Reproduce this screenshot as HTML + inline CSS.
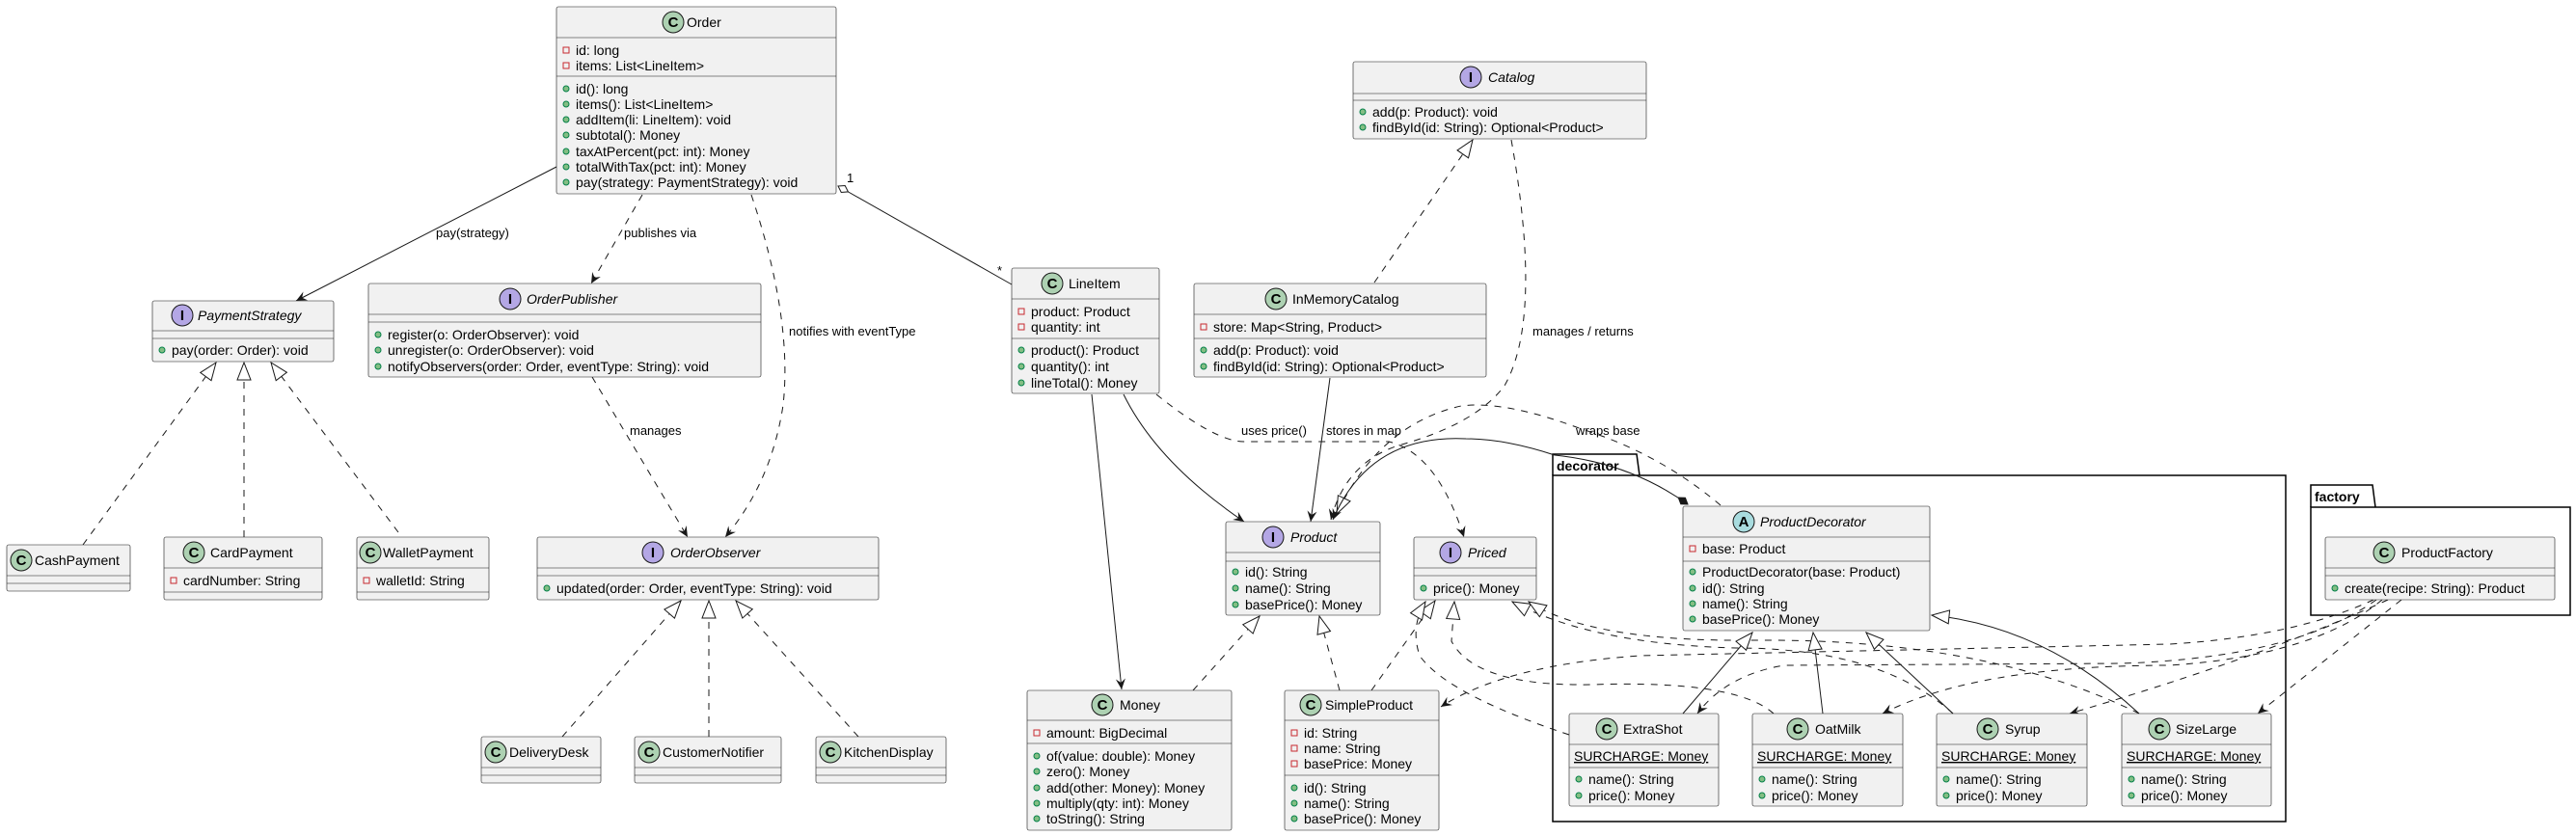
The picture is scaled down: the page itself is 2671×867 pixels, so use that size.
<!DOCTYPE html>
<html><head><meta charset="utf-8"><style>
html,body{margin:0;padding:0;background:#fff;}
svg{display:block;}
text{font-family:"Liberation Sans","DejaVu Sans",sans-serif;font-size:14px;fill:#000;}
.b{fill:#F1F1F1;stroke:#181818;stroke-width:0.6;}
.s{stroke:#181818;stroke-width:0.6;}
.e{fill:none;stroke:#181818;stroke-width:1;}
.d{fill:none;stroke:#181818;stroke-width:1;stroke-dasharray:7,7;}
.pv{fill:none;stroke:#C82930;stroke-width:1;}
.pu{fill:#84BE84;stroke:#038048;stroke-width:1;}
.cc{fill:#ADD1B2;stroke:#181818;stroke-width:1;}
.ci{fill:#B4A7E5;stroke:#181818;stroke-width:1;}
.ca{fill:#A9DCDF;stroke:#181818;stroke-width:1;}
.lt{font-weight:bold;font-size:15px;text-anchor:middle;}
.it{font-style:italic;}
.lb{font-size:13px;}
.pk{fill:none;stroke:#000;stroke-width:1.5;}
.pn{font-weight:bold;font-size:14px;}
</style></head><body>
<svg width="2671" height="867" viewBox="0 0 2671 867" xmlns="http://www.w3.org/2000/svg">
<defs>
<marker id="arr" markerUnits="userSpaceOnUse" markerWidth="24" markerHeight="24" refX="0" refY="0" viewBox="-12 -12 24 24" orient="auto"><path d="M0,0 L-11,-5 L-7,0 L-11,5 Z" fill="#181818"/></marker>
<marker id="tri" markerUnits="userSpaceOnUse" markerWidth="40" markerHeight="40" refX="0" refY="0" viewBox="-20 -20 40 40" orient="auto"><path d="M0,0 L-18,-7 L-18,7 Z" fill="#fff" stroke="#181818" stroke-width="1"/></marker>
<marker id="dia" markerUnits="userSpaceOnUse" markerWidth="30" markerHeight="30" refX="0" refY="0" viewBox="-15 -15 30 30" orient="auto"><path d="M0,0 L6,-4 L12,0 L6,4 Z" fill="#181818" stroke="#181818"/></marker>
<marker id="hdia" markerUnits="userSpaceOnUse" markerWidth="30" markerHeight="30" refX="0" refY="0" viewBox="-15 -15 30 30" orient="auto"><path d="M0,0 L6,-4 L12,0 L6,4 Z" fill="#fff" stroke="#181818"/></marker>
</defs>

<!-- packages -->
<path class="pk" d="M1610,493 L1610,471 L1697,471 L1700,493"/>
<rect class="pk" x="1610" y="493" width="760" height="359"/>
<text class="pn" x="1614" y="488">decorator</text>
<path class="pk" d="M2396,526 L2396,503 L2460,503 L2463,526"/>
<rect class="pk" x="2396" y="526" width="269" height="112"/>
<text class="pn" x="2400" y="520">factory</text>

<!-- edges -->
<path class="e" d="M577,173 L307,312" marker-end="url(#arr)"/>
<text class="lb" x="452" y="246">pay(strategy)</text>
<path class="d" d="M666,202 L613,294" marker-end="url(#arr)"/>
<text class="lb" x="647" y="246">publishes via</text>
<path class="d" d="M779,202 Q822,330 812,420 Q800,500 752,557" marker-end="url(#arr)"/>
<text class="lb" x="818" y="348">notifies with eventType</text>
<path class="e" d="M869,193 L1049,295" marker-start="url(#hdia)"/>
<text class="lb" x="878" y="189">1</text>
<text class="lb" x="1034" y="285">*</text>
<path class="d" d="M86,565 L224,376" marker-end="url(#tri)"/>
<path class="d" d="M253,557 L253,376" marker-end="url(#tri)"/>
<path class="d" d="M413,552 L281,376" marker-end="url(#tri)"/>
<path class="d" d="M614,391 L713,557" marker-end="url(#arr)"/>
<text class="lb" x="653" y="451">manages</text>
<path class="d" d="M583,764 L706,623" marker-end="url(#tri)"/>
<path class="d" d="M735,764 L735,623" marker-end="url(#tri)"/>
<path class="d" d="M890,764 L763,623" marker-end="url(#tri)"/>
<path class="d" d="M1425,293 L1527,145" marker-end="url(#tri)"/>
<path class="d" d="M1567,145 Q1600,330 1560,400 Q1530,440 1450,462 Q1395,480 1380,539" marker-end="url(#arr)"/>
<text class="lb" x="1589" y="348">manages / returns</text>
<path class="d" d="M1784,524 Q1720,470 1640,445 Q1560,415 1515,421 Q1430,440 1386,533" marker-end="url(#tri)"/>
<text class="lb" x="1634" y="451">wraps base</text>
<path class="e" d="M1750,523 Q1690,480 1612,472 Q1560,455 1520,455 Q1420,450 1382,539" marker-start="url(#dia)" marker-end="url(#arr)"/>
<path class="e" d="M1132,409 L1163,715" marker-end="url(#arr)"/>
<path class="e" d="M1165,409 Q1200,480 1290,541" marker-end="url(#arr)"/>
<path class="e" d="M1379,392 L1359,541" marker-end="url(#arr)"/>
<text class="lb" x="1375" y="451">stores in map</text>
<path class="d" d="M1199,409 Q1260,458 1290,458 L1440,458 Q1490,470 1518,557" marker-end="url(#arr)"/>
<text class="lb" x="1287" y="451">uses price()</text>
<path class="d" d="M1237,716 L1306,639" marker-end="url(#tri)"/>
<path class="d" d="M1389,716 L1368,639" marker-end="url(#tri)"/>
<path class="d" d="M1422,716 L1488,623" marker-end="url(#tri)"/>
<path class="d" d="M1627,762 Q1500,720 1472,680 Q1462,650 1478,624" marker-end="url(#tri)"/>
<path class="d" d="M1839,740 Q1800,705 1650,710 Q1530,712 1505,665 L1508,624" marker-end="url(#tri)"/>
<path class="d" d="M2025,740 Q1950,672 1800,672 Q1650,668 1568,624" marker-end="url(#tri)"/>
<path class="d" d="M2218,740 Q2060,662 1820,664 Q1650,666 1585,624" marker-end="url(#tri)"/>
<path class="d" d="M2461,622 Q2380,660 2250,668 L1700,680 Q1560,690 1494,733" marker-end="url(#arr)"/>
<path class="d" d="M2464,622 Q2380,682 2200,688 L1850,690 Q1790,700 1760,740" marker-end="url(#arr)"/>
<path class="d" d="M2470,622 Q2400,680 2250,690 Q2050,690 1952,740" marker-end="url(#arr)"/>
<path class="d" d="M2476,622 Q2350,680 2146,740" marker-end="url(#arr)"/>
<path class="d" d="M2490,622 L2341,740" marker-end="url(#arr)"/>

<!-- Order -->
<rect class="b" x="577" y="7" width="290" height="194" rx="2"/>
<circle class="cc" cx="698" cy="23" r="11"/><text class="lt" x="698" y="28">C</text>
<text x="712" y="28">Order</text>
<line class="s" x1="577" y1="39" x2="867" y2="39"/><line class="s" x1="577" y1="79" x2="867" y2="79"/>
<rect class="pv" x="584" y="49" width="6" height="6"/><text x="597" y="57">id: long</text>
<rect class="pv" x="584" y="65" width="6" height="6"/><text x="597" y="73">items: List&lt;LineItem&gt;</text>
<circle class="pu" cx="587" cy="92" r="3"/><text x="597" y="97">id(): long</text>
<circle class="pu" cx="587" cy="108" r="3"/><text x="597" y="113">items(): List&lt;LineItem&gt;</text>
<circle class="pu" cx="587" cy="124" r="3"/><text x="597" y="129">addItem(li: LineItem): void</text>
<circle class="pu" cx="587" cy="140" r="3"/><text x="597" y="145">subtotal(): Money</text>
<circle class="pu" cx="587" cy="157" r="3"/><text x="597" y="162">taxAtPercent(pct: int): Money</text>
<circle class="pu" cx="587" cy="173" r="3"/><text x="597" y="178">totalWithTax(pct: int): Money</text>
<circle class="pu" cx="587" cy="189" r="3"/><text x="597" y="194">pay(strategy: PaymentStrategy): void</text>

<!-- PaymentStrategy -->
<rect class="b" x="158" y="312" width="188" height="63" rx="2"/>
<circle class="ci" cx="189" cy="327" r="11"/><text class="lt" x="189" y="332">I</text>
<text class="it" x="205" y="332">PaymentStrategy</text>
<line class="s" x1="158" y1="343" x2="346" y2="343"/><line class="s" x1="158" y1="351" x2="346" y2="351"/>
<circle class="pu" cx="168" cy="363" r="3"/><text x="178" y="368">pay(order: Order): void</text>

<!-- OrderPublisher -->
<rect class="b" x="382" y="294" width="407" height="97" rx="2"/>
<circle class="ci" cx="529" cy="310" r="11"/><text class="lt" x="529" y="315">I</text>
<text class="it" x="546" y="315">OrderPublisher</text>
<line class="s" x1="382" y1="326" x2="789" y2="326"/><line class="s" x1="382" y1="334" x2="789" y2="334"/>
<circle class="pu" cx="392" cy="347" r="3"/><text x="402" y="352">register(o: OrderObserver): void</text>
<circle class="pu" cx="392" cy="363" r="3"/><text x="402" y="368">unregister(o: OrderObserver): void</text>
<circle class="pu" cx="392" cy="380" r="3"/><text x="402" y="385">notifyObservers(order: Order, eventType: String): void</text>

<!-- CashPayment -->
<rect class="b" x="7" y="565" width="128" height="48" rx="2"/>
<circle class="cc" cx="22" cy="581" r="11"/><text class="lt" x="22" y="586">C</text>
<text x="36" y="586">CashPayment</text>
<line class="s" x1="7" y1="597" x2="135" y2="597"/><line class="s" x1="7" y1="605" x2="135" y2="605"/>

<!-- CardPayment -->
<rect class="b" x="170" y="557" width="164" height="65" rx="2"/>
<circle class="cc" cx="201" cy="573" r="11"/><text class="lt" x="201" y="578">C</text>
<text x="218" y="578">CardPayment</text>
<line class="s" x1="170" y1="589" x2="334" y2="589"/><line class="s" x1="170" y1="614" x2="334" y2="614"/>
<rect class="pv" x="177" y="599" width="6" height="6"/><text x="190" y="607">cardNumber: String</text>

<!-- WalletPayment -->
<rect class="b" x="370" y="557" width="137" height="65" rx="2"/>
<circle class="cc" cx="384" cy="573" r="11"/><text class="lt" x="384" y="578">C</text>
<text x="397" y="578">WalletPayment</text>
<line class="s" x1="370" y1="589" x2="507" y2="589"/><line class="s" x1="370" y1="614" x2="507" y2="614"/>
<rect class="pv" x="377" y="599" width="6" height="6"/><text x="390" y="607">walletId: String</text>

<!-- OrderObserver -->
<rect class="b" x="557" y="557" width="354" height="65" rx="2"/>
<circle class="ci" cx="677" cy="573" r="11"/><text class="lt" x="677" y="578">I</text>
<text class="it" x="695" y="578">OrderObserver</text>
<line class="s" x1="557" y1="589" x2="911" y2="589"/><line class="s" x1="557" y1="597" x2="911" y2="597"/>
<circle class="pu" cx="567" cy="610" r="3"/><text x="577" y="615">updated(order: Order, eventType: String): void</text>

<!-- DeliveryDesk -->
<rect class="b" x="499" y="764" width="124" height="48" rx="2"/>
<circle class="cc" cx="514" cy="780" r="11"/><text class="lt" x="514" y="785">C</text>
<text x="528" y="785">DeliveryDesk</text>
<line class="s" x1="499" y1="796" x2="623" y2="796"/><line class="s" x1="499" y1="804" x2="623" y2="804"/>

<!-- CustomerNotifier -->
<rect class="b" x="658" y="764" width="152" height="48" rx="2"/>
<circle class="cc" cx="673" cy="780" r="11"/><text class="lt" x="673" y="785">C</text>
<text x="687" y="785">CustomerNotifier</text>
<line class="s" x1="658" y1="796" x2="810" y2="796"/><line class="s" x1="658" y1="804" x2="810" y2="804"/>

<!-- KitchenDisplay -->
<rect class="b" x="846" y="764" width="135" height="48" rx="2"/>
<circle class="cc" cx="861" cy="780" r="11"/><text class="lt" x="861" y="785">C</text>
<text x="875" y="785">KitchenDisplay</text>
<line class="s" x1="846" y1="796" x2="981" y2="796"/><line class="s" x1="846" y1="804" x2="981" y2="804"/>

<!-- Catalog -->
<rect class="b" x="1403" y="64" width="304" height="80" rx="2"/>
<circle class="ci" cx="1525" cy="80" r="11"/><text class="lt" x="1525" y="85">I</text>
<text class="it" x="1543" y="85">Catalog</text>
<line class="s" x1="1403" y1="97" x2="1707" y2="97"/><line class="s" x1="1403" y1="104" x2="1707" y2="104"/>
<circle class="pu" cx="1413" cy="116" r="3"/><text x="1423" y="121">add(p: Product): void</text>
<circle class="pu" cx="1413" cy="132" r="3"/><text x="1423" y="137">findById(id: String): Optional&lt;Product&gt;</text>

<!-- LineItem -->
<rect class="b" x="1049" y="278" width="153" height="130" rx="2"/>
<circle class="cc" cx="1091" cy="294" r="11"/><text class="lt" x="1091" y="299">C</text>
<text x="1108" y="299">LineItem</text>
<line class="s" x1="1049" y1="310" x2="1202" y2="310"/><line class="s" x1="1049" y1="351" x2="1202" y2="351"/>
<rect class="pv" x="1056" y="320" width="6" height="6"/><text x="1069" y="328">product: Product</text>
<rect class="pv" x="1056" y="336" width="6" height="6"/><text x="1069" y="344">quantity: int</text>
<circle class="pu" cx="1059" cy="363" r="3"/><text x="1069" y="368">product(): Product</text>
<circle class="pu" cx="1059" cy="380" r="3"/><text x="1069" y="385">quantity(): int</text>
<circle class="pu" cx="1059" cy="397" r="3"/><text x="1069" y="402">lineTotal(): Money</text>

<!-- InMemoryCatalog -->
<rect class="b" x="1238" y="294" width="303" height="97" rx="2"/>
<circle class="cc" cx="1323" cy="310" r="11"/><text class="lt" x="1323" y="315">C</text>
<text x="1340" y="315">InMemoryCatalog</text>
<line class="s" x1="1238" y1="326" x2="1541" y2="326"/><line class="s" x1="1238" y1="351" x2="1541" y2="351"/>
<rect class="pv" x="1245" y="336" width="6" height="6"/><text x="1258" y="344">store: Map&lt;String, Product&gt;</text>
<circle class="pu" cx="1248" cy="363" r="3"/><text x="1258" y="368">add(p: Product): void</text>
<circle class="pu" cx="1248" cy="380" r="3"/><text x="1258" y="385">findById(id: String): Optional&lt;Product&gt;</text>

<!-- Product -->
<rect class="b" x="1271" y="541" width="160" height="97" rx="2"/>
<circle class="ci" cx="1320" cy="557" r="11"/><text class="lt" x="1320" y="562">I</text>
<text class="it" x="1338" y="562">Product</text>
<line class="s" x1="1271" y1="573" x2="1431" y2="573"/><line class="s" x1="1271" y1="582" x2="1431" y2="582"/>
<circle class="pu" cx="1281" cy="593" r="3"/><text x="1291" y="598">id(): String</text>
<circle class="pu" cx="1281" cy="610" r="3"/><text x="1291" y="615">name(): String</text>
<circle class="pu" cx="1281" cy="627" r="3"/><text x="1291" y="632">basePrice(): Money</text>

<!-- Priced -->
<rect class="b" x="1466" y="557" width="127" height="65" rx="2"/>
<circle class="ci" cx="1504" cy="573" r="11"/><text class="lt" x="1504" y="578">I</text>
<text class="it" x="1522" y="578">Priced</text>
<line class="s" x1="1466" y1="589" x2="1593" y2="589"/><line class="s" x1="1466" y1="597" x2="1593" y2="597"/>
<circle class="pu" cx="1476" cy="610" r="3"/><text x="1486" y="615">price(): Money</text>

<!-- Money -->
<rect class="b" x="1065" y="716" width="212" height="145" rx="2"/>
<circle class="cc" cx="1143" cy="731" r="11"/><text class="lt" x="1143" y="736">C</text>
<text x="1161" y="736">Money</text>
<line class="s" x1="1065" y1="747" x2="1277" y2="747"/><line class="s" x1="1065" y1="771" x2="1277" y2="771"/>
<rect class="pv" x="1072" y="757" width="6" height="6"/><text x="1085" y="765">amount: BigDecimal</text>
<circle class="pu" cx="1075" cy="784" r="3"/><text x="1085" y="789">of(value: double): Money</text>
<circle class="pu" cx="1075" cy="800" r="3"/><text x="1085" y="805">zero(): Money</text>
<circle class="pu" cx="1075" cy="817" r="3"/><text x="1085" y="822">add(other: Money): Money</text>
<circle class="pu" cx="1075" cy="833" r="3"/><text x="1085" y="838">multiply(qty: int): Money</text>
<circle class="pu" cx="1075" cy="849" r="3"/><text x="1085" y="854">toString(): String</text>

<!-- SimpleProduct -->
<rect class="b" x="1332" y="716" width="160" height="145" rx="2"/>
<circle class="cc" cx="1359" cy="731" r="11"/><text class="lt" x="1359" y="736">C</text>
<text x="1374" y="736">SimpleProduct</text>
<line class="s" x1="1332" y1="747" x2="1492" y2="747"/><line class="s" x1="1332" y1="804" x2="1492" y2="804"/>
<rect class="pv" x="1339" y="757" width="6" height="6"/><text x="1352" y="765">id: String</text>
<rect class="pv" x="1339" y="773" width="6" height="6"/><text x="1352" y="781">name: String</text>
<rect class="pv" x="1339" y="789" width="6" height="6"/><text x="1352" y="797">basePrice: Money</text>
<circle class="pu" cx="1342" cy="817" r="3"/><text x="1352" y="822">id(): String</text>
<circle class="pu" cx="1342" cy="833" r="3"/><text x="1352" y="838">name(): String</text>
<circle class="pu" cx="1342" cy="849" r="3"/><text x="1352" y="854">basePrice(): Money</text>

<!-- ProductDecorator -->
<rect class="b" x="1745" y="525" width="256" height="129" rx="2"/>
<circle class="ca" cx="1808" cy="541" r="11"/><text class="lt" x="1808" y="546">A</text>
<text class="it" x="1825" y="546">ProductDecorator</text>
<line class="s" x1="1745" y1="557" x2="2001" y2="557"/><line class="s" x1="1745" y1="582" x2="2001" y2="582"/>
<rect class="pv" x="1752" y="566" width="6" height="6"/><text x="1765" y="574">base: Product</text>
<circle class="pu" cx="1755" cy="593" r="3"/><text x="1765" y="598">ProductDecorator(base: Product)</text>
<circle class="pu" cx="1755" cy="610" r="3"/><text x="1765" y="615">id(): String</text>
<circle class="pu" cx="1755" cy="626" r="3"/><text x="1765" y="631">name(): String</text>
<circle class="pu" cx="1755" cy="642" r="3"/><text x="1765" y="647">basePrice(): Money</text>

<!-- ExtraShot -->
<rect class="b" x="1627" y="740" width="155" height="96" rx="2"/>
<circle class="cc" cx="1666" cy="756" r="11"/><text class="lt" x="1666" y="761">C</text>
<text x="1683" y="761">ExtraShot</text>
<line class="s" x1="1627" y1="772" x2="1782" y2="772"/><line class="s" x1="1627" y1="796" x2="1782" y2="796"/>
<text x="1632" y="789" text-decoration="underline">SURCHARGE: Money</text>
<circle class="pu" cx="1637" cy="808" r="3"/><text x="1647" y="813">name(): String</text>
<circle class="pu" cx="1637" cy="825" r="3"/><text x="1647" y="830">price(): Money</text>

<!-- OatMilk -->
<rect class="b" x="1817" y="740" width="156" height="96" rx="2"/>
<circle class="cc" cx="1864" cy="756" r="11"/><text class="lt" x="1864" y="761">C</text>
<text x="1882" y="761">OatMilk</text>
<line class="s" x1="1817" y1="772" x2="1973" y2="772"/><line class="s" x1="1817" y1="796" x2="1973" y2="796"/>
<text x="1822" y="789" text-decoration="underline">SURCHARGE: Money</text>
<circle class="pu" cx="1827" cy="808" r="3"/><text x="1837" y="813">name(): String</text>
<circle class="pu" cx="1827" cy="825" r="3"/><text x="1837" y="830">price(): Money</text>

<!-- Syrup -->
<rect class="b" x="2008" y="740" width="156" height="96" rx="2"/>
<circle class="cc" cx="2061" cy="756" r="11"/><text class="lt" x="2061" y="761">C</text>
<text x="2079" y="761">Syrup</text>
<line class="s" x1="2008" y1="772" x2="2164" y2="772"/><line class="s" x1="2008" y1="796" x2="2164" y2="796"/>
<text x="2013" y="789" text-decoration="underline">SURCHARGE: Money</text>
<circle class="pu" cx="2018" cy="808" r="3"/><text x="2028" y="813">name(): String</text>
<circle class="pu" cx="2018" cy="825" r="3"/><text x="2028" y="830">price(): Money</text>

<!-- SizeLarge -->
<rect class="b" x="2200" y="740" width="155" height="96" rx="2"/>
<circle class="cc" cx="2239" cy="756" r="11"/><text class="lt" x="2239" y="761">C</text>
<text x="2256" y="761">SizeLarge</text>
<line class="s" x1="2200" y1="772" x2="2355" y2="772"/><line class="s" x1="2200" y1="796" x2="2355" y2="796"/>
<text x="2205" y="789" text-decoration="underline">SURCHARGE: Money</text>
<circle class="pu" cx="2210" cy="808" r="3"/><text x="2220" y="813">name(): String</text>
<circle class="pu" cx="2210" cy="825" r="3"/><text x="2220" y="830">price(): Money</text>

<!-- ProductFactory -->
<rect class="b" x="2411" y="557" width="238" height="65" rx="2"/>
<circle class="cc" cx="2472" cy="573" r="11"/><text class="lt" x="2472" y="578">C</text>
<text x="2490" y="578">ProductFactory</text>
<line class="s" x1="2411" y1="589" x2="2649" y2="589"/><line class="s" x1="2411" y1="597" x2="2649" y2="597"/>
<circle class="pu" cx="2421" cy="610" r="3"/><text x="2431" y="615">create(recipe: String): Product</text>

<!-- generalizations to ProductDecorator -->
<path class="e" d="M1745,740 L1817,656" marker-end="url(#tri)"/>
<path class="e" d="M1890,740 L1880,656" marker-end="url(#tri)"/>
<path class="e" d="M2025,740 L1935,656" marker-end="url(#tri)"/>
<path class="e" d="M2218,740 Q2120,650 2003,638" marker-end="url(#tri)"/>
</svg>
</body></html>
